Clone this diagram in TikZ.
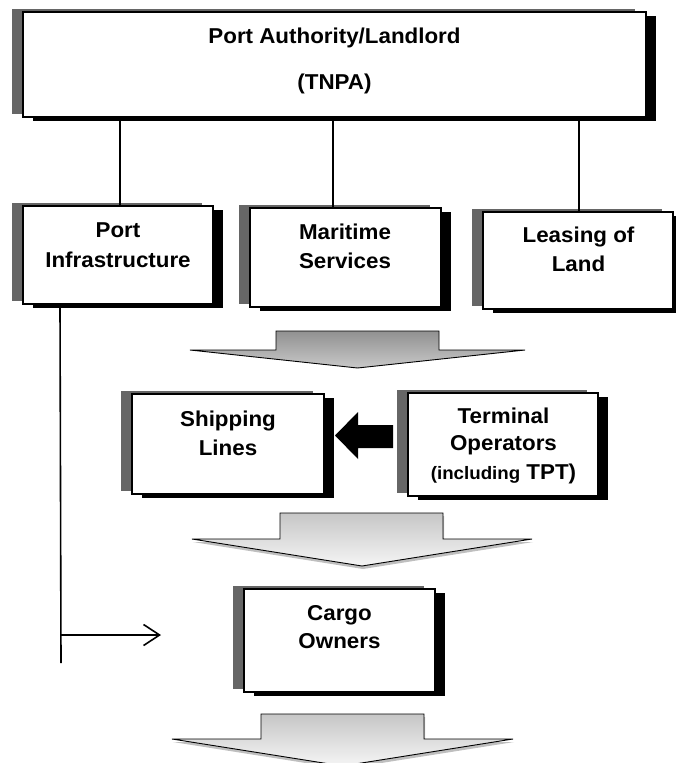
\documentclass[tikz,border=0pt]{standalone}
\usepackage{fontspec}
\setmainfont{Liberation Sans}[FakeStretch=1.04]
\usetikzlibrary{arrows.meta,shadows}
\definecolor{shgray}{RGB}{102,102,102}
\begin{document}
\begin{tikzpicture}[x=1pt,y=-1pt,
  box/.style={draw=black, line width=1.5pt, fill=white, rectangle, inner sep=0pt,
    general shadow={fill=shgray, shadow xshift=-11pt, shadow yshift=3pt},
    general shadow={fill=black, shadow xshift=10pt, shadow yshift=-4pt}},
  lbl/.style={font=\bfseries\fontsize{21.5}{25}\selectfont, anchor=base, inner sep=0pt},
  link/.style={line width=2.6pt},
  feed/.style={line width=1.6pt},
  darkflow/.style={draw=black, line width=0.9pt,
    top color={rgb,255:red,145;green,145;blue,145},
    bottom color={rgb,255:red,200;green,200;blue,200}},
  lightflow/.style={draw=black, line width=0.9pt,
    top color={rgb,255:red,198;green,198;blue,198},
    bottom color={rgb,255:red,245;green,245;blue,245},
    drop shadow={opacity=0.25, fill=black, shadow xshift=1pt, shadow yshift=-3pt}},
]
\useasboundingbox (0,0) rectangle (675,763);
\fill[white] (0,0) rectangle (675,763);

% boxes
\node[box, minimum width=623pt, minimum height=105pt] (pa) at (334.5,64.5) {};
\node[box, minimum width=190pt, minimum height=98pt] (pi) at (118,255) {};
\node[box, minimum width=191pt, minimum height=99pt] (ms) at (345.5,257.5) {};
\node[box, minimum width=190pt, minimum height=97pt] (ll) at (578,260.5) {};
\node[box, minimum width=192pt, minimum height=100pt] (sl) at (228,444) {};
\node[box, minimum width=190pt, minimum height=103pt] (to) at (503,444.5) {};
\node[box, minimum width=191pt, minimum height=103pt] (co) at (339.5,640.5) {};

% texts
\node[lbl] (paA) at (334.5,43) {Port Authority/Landlord};
\node[lbl] (paB) at (334.5,89) {(TNPA)};
\node[lbl] (piA) at (118,237) {Port};
\node[lbl] (piB) at (118,267) {Infrastructure};
\node[lbl] (msA) at (345,239) {Maritime};
\node[lbl] (msB) at (345,268) {Services};
\node[lbl] (llA) at (578.5,242) {Leasing of};
\node[lbl] (llB) at (578.5,271) {Land};
\node[lbl] (slA) at (228,426) {Shipping};
\node[lbl] (slB) at (228,455) {Lines};
\node[lbl] (toA) at (503.5,423) {Terminal};
\node[lbl] (toB) at (503.5,450) {Operators};
\node[lbl] (toC) at (503.5,479) {{\fontsize{18}{22}\selectfont (including} TPT)};
\node[lbl] (coA) at (339.5,620) {Cargo};
\node[lbl] (coB) at (339.5,648) {Owners};

% connectors from the port authority
\coordinate (c1) at ([xshift=2pt]pi.north);
\coordinate (c2) at ([xshift=-12.5pt]ms.north);
\coordinate (c3) at ([xshift=1pt]ll.north);
\draw[link] (c1) -- (c1 |- pa.south);
\draw[link] (c2) -- (c2 |- pa.south);
\draw[link] (c3) -- (c3 |- pa.south);

% feed line from port infrastructure to cargo owners
\coordinate (fa) at ([xshift=-58pt]pi.south);
\coordinate (fend) at (61,663);
\coordinate (fb) at (61,635);
\coordinate (ftip) at (161,635);
\draw[feed] (fa) -- (fend);
\draw[feed, -{Straight Barb[length=16pt,width=21pt,line width=1.6pt]}] (fb) -- (ftip);

% block arrows
\draw[darkflow] (276,331) -- (439,331) -- (439,350) -- (525,350) -- (357.5,368) -- (190,350) -- (276,350) -- cycle;
\draw[lightflow] (280,513) -- (443,513) -- (443,539) -- (532,539) -- (362,566) -- (192,539) -- (280,539) -- cycle;
\draw[lightflow] (261,714) -- (424,714) -- (424,739) -- (513,739) -- (342.5,766) -- (172,739) -- (261,739) -- cycle;

% black arrow from terminal operators to shipping lines
\fill[black] (393,425) -- (358,425) -- (358,412) -- (335,435.5) -- (358,459) -- (358,448) -- (393,448) -- cycle;
\end{tikzpicture}
\end{document}
